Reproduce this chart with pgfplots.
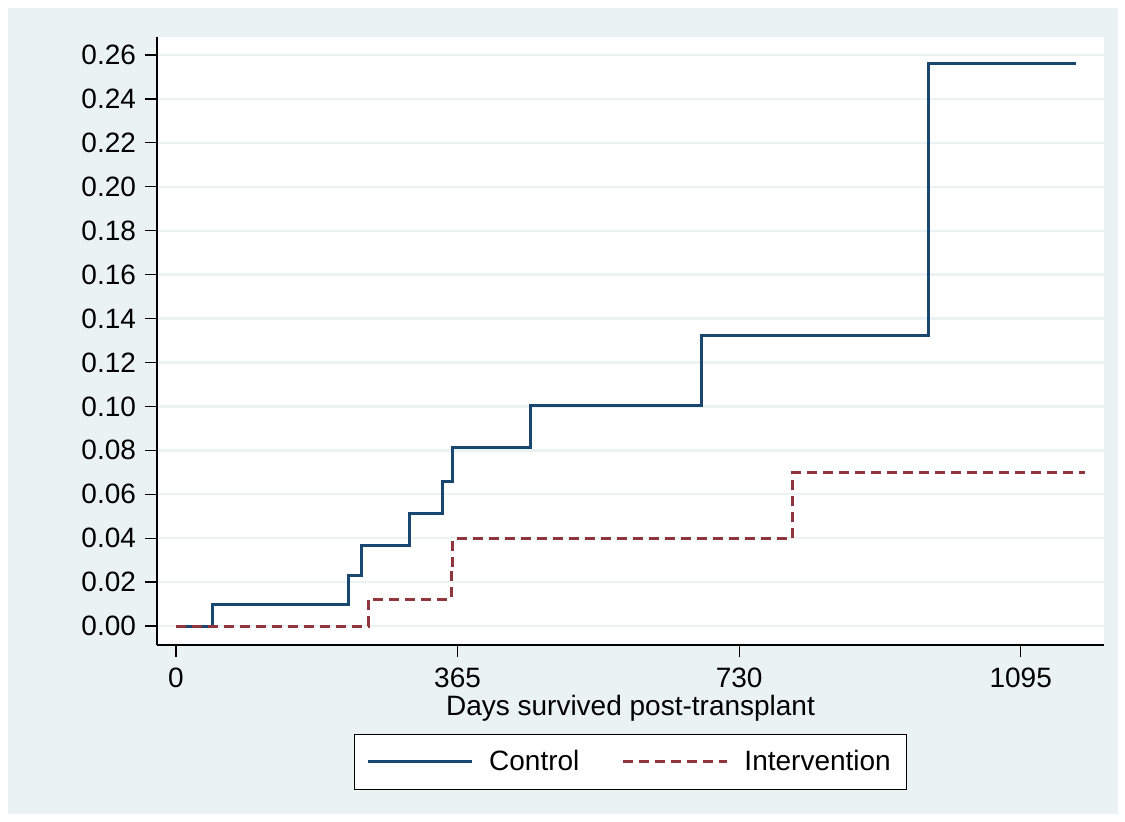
\documentclass[border=0pt]{standalone}
\usepackage{pgfplots}
\pgfplotsset{compat=1.18}
\usepackage{fontspec}
\setmainfont{Liberation Sans}
\definecolor{bgc}{HTML}{EAF2F3}
\definecolor{ctrl}{HTML}{1A476F}
\definecolor{intv}{HTML}{90353B}
\begin{document}
\begin{tikzpicture}[x=1pt,y=1pt]
\useasboundingbox (0,0) rectangle (562.5,410.5);
\fill[white] (0,0) rectangle (562.5,410.5);
\fill[bgc] (4,3.5) rectangle (559,406.5);
\begin{axis}[
  at={(78.5pt,88pt)}, anchor=south west,
  scale only axis, width=473.5pt, height=304pt,
  xmin=-24.6, xmax=1203, ymin=-0.00865, ymax=0.2682,
  axis x line*=bottom, axis y line*=left,
  axis line style={black, line width=0.6pt, -},
  axis background/.style={fill=white},
  xtick={0,365,730,1095},
  ytick={0,0.02,...,0.261},
  tick align=outside, major tick length=6pt,
  tick style={black, line width=0.6pt},
  ymajorgrids, grid style={bgc, line width=1.2pt},
  font=\fontsize{14}{16}\selectfont,
  tick label style={font=\fontsize{14}{16}\selectfont},
  /pgf/number format/assume math mode=true,
  /pgf/number format/1000 sep={},
  yticklabel style={/pgf/number format/fixed, /pgf/number format/fixed zerofill, /pgf/number format/precision=2, xshift=-1pt},
  xticklabel style={inner sep=0pt, yshift=-5.3pt},
  scaled y ticks=false,
  xlabel={Days survived post-transplant},
  xlabel style={inner sep=0pt, yshift=-3.6pt, font=\fontsize{14}{16}\selectfont},
  legend columns=2,
  legend style={at={(0.5,-0.1924)}, anchor=center, draw=black, line width=0.5pt, fill=white,
    font=\fontsize{14}{16}\selectfont, inner xsep=6pt, inner ysep=6pt,
    /tikz/every even column/.append style={column sep=19pt}},
  legend image code/.code={\draw[#1] plot coordinates {(0pt,0pt) (52pt,0pt)}; \path (58pt,0pt);},
]
\addplot[const plot, ctrl, line width=1.5pt] coordinates {
(0,0) (47,0.0099) (223,0.0231) (240,0.0367) (303,0.0512) (345,0.0659) (359,0.0815) (459,0.1005) (681,0.1324) (975,0.2563) (1167,0.2563)};
\addlegendentry{Control}
\addplot[const plot, intv, line width=1.5pt, dash pattern=on 5pt off 3pt] coordinates {
(0,0) (249,0.0122) (357,0.0262) (359,0.0397) (799,0.0697) (1179,0.0697)};
\addlegendentry{Intervention}
\end{axis}
\end{tikzpicture}
\end{document}
